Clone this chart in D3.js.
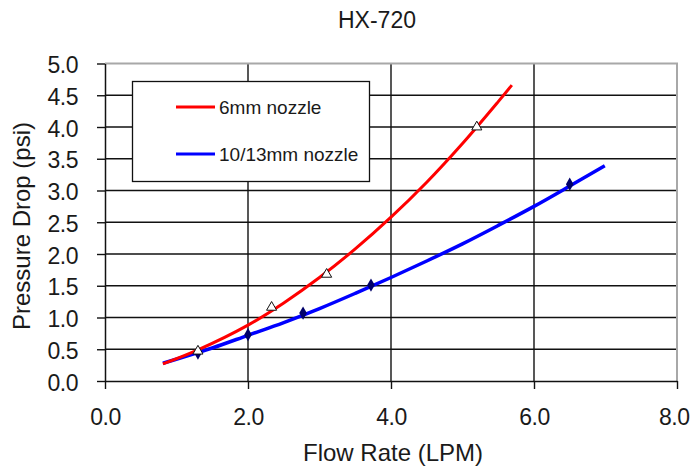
<!DOCTYPE html>
<html>
<head>
<meta charset="utf-8">
<script src="https://cdn.jsdelivr.net/npm/d3@7"></script>
<style>
  html, body { margin: 0; padding: 0; background: #fff; }
  svg { display: block; }
  text { font-family: "Liberation Sans", Arial, sans-serif; fill: #1a1a1a; }
</style>
</head>
<body>
<div id="chart"></div>
<script>
// ---- data ----
const chartTitle = "HX-720";
const xTitle = "Flow Rate (LPM)";
const yTitle = "Pressure Drop (psi)";
const xTicks = [0, 2, 4, 6, 8];
const yTicks = [0, 0.5, 1, 1.5, 2, 2.5, 3, 3.5, 4, 4.5, 5];
const seriesNames = ["6mm nozzle", "10/13mm nozzle"];

// measured points (markers)
const flow6 = [1.30, 2.33, 3.10, 5.20];
const drop6 = [0.47, 1.16, 1.68, 4.00];
const flow10 = [1.30, 2.00, 2.77, 3.72, 6.50];
const drop10 = [0.44, 0.73, 1.07, 1.51, 3.10];

// trend curves
const trendFlow6 = [0.81, 1.3, 2.0, 2.5, 3.0, 3.5, 4.0, 4.5, 5.0, 5.5, 5.69];
const trendDrop6 = [0.27, 0.49, 0.88, 1.23, 1.63, 2.08, 2.58, 3.13, 3.74, 4.40, 4.66];
const trendFlow10 = [0.81, 1.5, 2.0, 2.5, 3.0, 3.5, 4.0, 4.5, 5.0, 5.5, 6.0, 6.5, 6.99];
const trendDrop10 = [0.28, 0.52, 0.72, 0.92, 1.14, 1.38, 1.63, 1.89, 2.16, 2.45, 2.75, 3.07, 3.39];

const colors = ["#ff0000", "#0000ff"];

// ---- layout ----
const W = 690, H = 468;
const x0 = 105, x1 = 677, y0 = 381, y1 = 63.5;

const svg = d3.select("#chart").append("svg").attr("width", W).attr("height", H);

const x = d3.scaleLinear().domain([0, 8]).range([x0, x1]);
const y = d3.scaleLinear().domain([0, 5]).range([y0, y1]);

// grid lines
const grid = svg.append("g");
grid.selectAll("line.h").data(yTicks.filter(v => v > 0 && v < 5)).enter().append("line")
  .attr("x1", x0).attr("x2", x1).attr("y1", d => y(d)).attr("y2", d => y(d))
  .attr("stroke", "#111").attr("stroke-width", 1.4);
grid.selectAll("line.v").data(xTicks.filter(v => v > 0 && v < 8)).enter().append("line")
  .attr("x1", d => x(d)).attr("x2", d => x(d)).attr("y1", y1).attr("y2", y0)
  .attr("stroke", "#111").attr("stroke-width", 1.4);
// top / right border (gray)
svg.append("path")
  .attr("d", `M${x0},${y(5)}H${x(8)}V${y0}`)
  .attr("fill", "none").attr("stroke", "#a8a8a8").attr("stroke-width", 2);

// axes
const xAxis = d3.axisBottom(x).tickValues(xTicks).tickFormat(d3.format(".1f"))
  .tickSizeInner(8).tickSizeOuter(0).tickPadding(20);
const gx = svg.append("g").attr("transform", `translate(0,${y0})`).call(xAxis);
gx.select(".domain").attr("stroke", "#111").attr("stroke-width", 1.5);
gx.selectAll(".tick line").attr("stroke", "#111").attr("stroke-width", 1.4);
gx.selectAll(".tick text").attr("font-size", 23).attr("fill", "#1a1a1a")
  .attr("letter-spacing", "-0.5px")
  .style("font-family", "'Liberation Sans', Arial, sans-serif");
// keep the last label inside the page edge
gx.selectAll(".tick text").filter(d => d === 8)
  .attr("text-anchor", "end").attr("x", W - 1 - x(8));

const yAxis = d3.axisLeft(y).tickValues(yTicks).tickFormat(d3.format(".1f"))
  .tickSizeInner(8).tickSizeOuter(0).tickPadding(19);
const gy = svg.append("g").attr("transform", `translate(${x0},0)`).call(yAxis);
gy.select(".domain").attr("stroke", "#111").attr("stroke-width", 1.5);
gy.selectAll(".tick line").attr("stroke", "#111").attr("stroke-width", 1.4);
gy.selectAll(".tick text").attr("font-size", 23).attr("fill", "#1a1a1a")
  .attr("dy", "0.40em").attr("letter-spacing", "-0.5px")
  .style("font-family", "'Liberation Sans', Arial, sans-serif");

// lines
const line = d3.line().x(d => x(d[0])).y(d => y(d[1])).curve(d3.curveCatmullRom);
const trend6 = trendFlow6.map((v, i) => [v, trendDrop6[i]]);
const trend10 = trendFlow10.map((v, i) => [v, trendDrop10[i]]);
svg.append("path").datum(trend10).attr("d", line)
  .attr("fill", "none").attr("stroke", colors[1]).attr("stroke-width", 3.5);
svg.append("path").datum(trend6).attr("d", line)
  .attr("fill", "none").attr("stroke", colors[0]).attr("stroke-width", 3);

// markers
const pts6 = flow6.map((v, i) => [v, drop6[i]]);
const pts10 = flow10.map((v, i) => [v, drop10[i]]);
svg.append("g").selectAll("path").data(pts10).enter().append("path")
  .attr("d", d3.symbol().type(d3.symbolDiamond).size(50))
  .attr("transform", d => `translate(${x(d[0])},${y(d[1])})`)
  .attr("fill", "#00006a").attr("stroke", "none");
svg.append("g").selectAll("path").data(pts6).enter().append("path")
  .attr("d", d3.symbol().type(d3.symbolTriangle).size(44))
  .attr("transform", d => `translate(${x(d[0])},${y(d[1])})`)
  .attr("fill", "#fff").attr("stroke", "#111").attr("stroke-width", 1);

// legend
const lg = svg.append("g");
lg.append("rect").attr("x", 132.5).attr("y", 81.5).attr("width", 237).attr("height", 100)
  .attr("fill", "#fff").attr("stroke", "#111").attr("stroke-width", 1.3);
const legendY = [107, 154];
seriesNames.forEach((name, i) => {
  lg.append("line").attr("x1", 176).attr("x2", 215).attr("y1", legendY[i]).attr("y2", legendY[i])
    .attr("stroke", colors[i]).attr("stroke-width", 3);
  lg.append("text").attr("x", 219).attr("y", legendY[i] + 7).attr("font-size", 19).text(name);
});

// titles
svg.append("text").attr("x", 377).attr("y", 28).attr("text-anchor", "middle")
  .attr("font-size", 23).text(chartTitle);
svg.append("text").attr("x", 393).attr("y", 461).attr("text-anchor", "middle")
  .attr("font-size", 24).text(xTitle);
svg.append("text").attr("transform", "translate(30,226) rotate(-90)").attr("text-anchor", "middle")
  .attr("font-size", 24).text(yTitle);
</script>
</body>
</html>
